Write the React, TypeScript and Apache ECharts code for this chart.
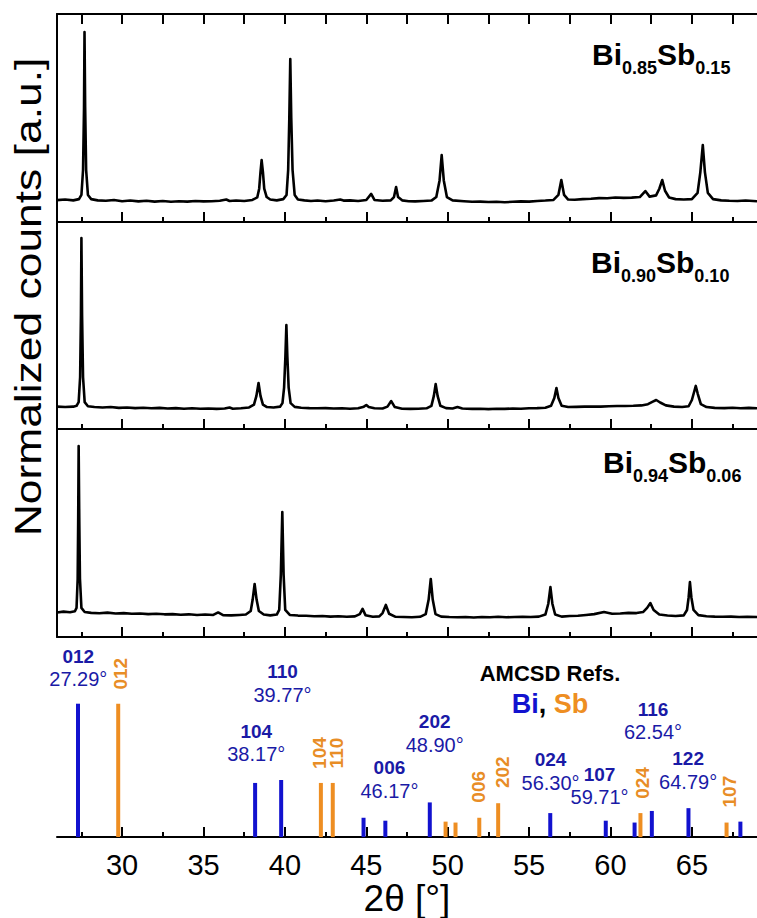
import React, { useEffect, useRef } from 'react';
import * as echarts from 'echarts';

const FONT = '"Liberation Sans", Arial, Helvetica, sans-serif';

// ---------- axis ----------
const X_MIN = 26;
const X_MAX = 69;
const MAJOR_TICKS = [30, 35, 40, 45, 50, 55, 60, 65];
const MINOR_TICKS = [27.5, 32.5, 37.5, 42.5, 47.5, 52.5, 57.5, 62.5, 67.5];
const ALL_TICKS = [27.5, 30, 32.5, 35, 37.5, 40, 42.5, 45, 47.5, 50, 52.5, 55, 57.5, 60, 62.5, 65, 67.5];

// ---------- samples ----------
const SAMPLE_BI = ['0.85', '0.90', '0.94'];
const SAMPLE_SB = ['0.15', '0.10', '0.06'];

const PATTERN_085: number[][] = [
  [26.0, 0.105], [26.5, 0.108], [27.0, 0.104], [27.35, 0.110], [27.5, 0.130], [27.6, 0.25], [27.66, 0.55],
  [27.69, 0.913], [27.73, 0.55], [27.79, 0.25], [27.9, 0.13], [28.1, 0.110], [28.5, 0.104], [29.0, 0.102],
  [29.5, 0.106], [30.0, 0.100], [30.5, 0.103], [31.0, 0.099], [31.5, 0.102], [32.0, 0.098], [32.5, 0.101],
  [33.0, 0.097], [33.5, 0.100], [34.0, 0.098], [34.5, 0.101], [35.0, 0.099], [35.5, 0.100], [36.0, 0.102],
  [36.4, 0.108], [36.6, 0.101], [37.0, 0.103], [37.5, 0.101], [38.0, 0.106], [38.3, 0.118], [38.42, 0.16],
  [38.5, 0.24], [38.57, 0.298], [38.65, 0.24], [38.73, 0.16], [38.88, 0.12], [39.1, 0.108], [39.5, 0.104],
  [39.9, 0.110], [40.1, 0.13], [40.2, 0.25], [40.27, 0.5], [40.33, 0.784], [40.39, 0.5], [40.47, 0.25],
  [40.6, 0.13], [40.8, 0.108], [41.2, 0.104], [41.6, 0.101], [42.0, 0.103], [42.5, 0.100], [43.0, 0.103],
  [43.4, 0.108], [43.6, 0.103], [44.0, 0.104], [44.5, 0.101], [45.0, 0.106], [45.3, 0.135], [45.5, 0.106],
  [46.0, 0.102], [46.5, 0.104], [46.7, 0.12], [46.83, 0.168], [46.95, 0.12], [47.2, 0.104], [47.6, 0.100],
  [48.0, 0.099], [48.5, 0.101], [49.0, 0.103], [49.3, 0.12], [49.5, 0.2], [49.63, 0.322], [49.76, 0.2],
  [49.95, 0.12], [50.3, 0.104], [51.0, 0.100], [51.5, 0.097], [52.0, 0.098], [52.5, 0.096], [53.0, 0.097],
  [53.5, 0.095], [54.0, 0.097], [54.5, 0.099], [55.0, 0.098], [55.5, 0.101], [56.0, 0.103], [56.5, 0.106],
  [56.8, 0.13], [56.98, 0.202], [57.15, 0.13], [57.4, 0.108], [57.8, 0.107], [58.3, 0.110], [58.8, 0.112],
  [59.3, 0.115], [59.8, 0.114], [60.3, 0.118], [60.8, 0.116], [61.3, 0.117], [61.8, 0.120], [62.14, 0.149],
  [62.4, 0.122], [62.8, 0.128], [63.0, 0.16], [63.18, 0.202], [63.35, 0.15], [63.6, 0.118], [64.0, 0.110],
  [64.5, 0.108], [65.0, 0.110], [65.35, 0.14], [65.52, 0.24], [65.67, 0.370], [65.8, 0.24], [65.98, 0.14],
  [66.3, 0.110], [66.8, 0.104], [67.3, 0.102], [67.8, 0.101], [68.3, 0.103], [69.0, 0.100],
];

const PATTERN_090: number[][] = [
  [26.0, 0.108], [26.5, 0.106], [27.0, 0.108], [27.2, 0.112], [27.33, 0.13], [27.42, 0.25], [27.47, 0.55],
  [27.5, 0.923], [27.54, 0.55], [27.6, 0.25], [27.7, 0.13], [27.9, 0.11], [28.3, 0.106], [28.8, 0.104],
  [29.3, 0.106], [29.8, 0.102], [30.3, 0.104], [30.8, 0.101], [31.3, 0.103], [31.8, 0.100], [32.3, 0.102],
  [32.8, 0.099], [33.3, 0.101], [33.8, 0.098], [34.3, 0.100], [34.8, 0.098], [35.3, 0.099], [35.8, 0.097],
  [36.3, 0.099], [36.6, 0.104], [36.8, 0.098], [37.3, 0.100], [37.8, 0.104], [38.1, 0.118], [38.25, 0.16],
  [38.38, 0.222], [38.5, 0.16], [38.65, 0.118], [38.9, 0.106], [39.3, 0.104], [39.7, 0.108], [39.85, 0.125],
  [39.95, 0.2], [40.03, 0.35], [40.09, 0.502], [40.15, 0.35], [40.23, 0.2], [40.35, 0.125], [40.6, 0.107],
  [41.0, 0.103], [41.5, 0.101], [42.0, 0.100], [42.5, 0.101], [43.0, 0.099], [43.5, 0.100], [44.0, 0.098],
  [44.5, 0.100], [44.85, 0.108], [45.0, 0.116], [45.15, 0.106], [45.5, 0.100], [46.0, 0.099], [46.3, 0.108],
  [46.53, 0.135], [46.75, 0.106], [47.2, 0.098], [47.7, 0.097], [48.2, 0.098], [48.7, 0.100], [49.0, 0.112],
  [49.15, 0.16], [49.26, 0.217], [49.38, 0.16], [49.55, 0.112], [49.9, 0.101], [50.3, 0.099], [50.6, 0.106],
  [50.9, 0.099], [51.5, 0.097], [52.0, 0.098], [52.5, 0.096], [53.0, 0.098], [53.5, 0.097], [54.0, 0.099],
  [54.5, 0.098], [55.0, 0.100], [55.5, 0.101], [56.0, 0.103], [56.35, 0.112], [56.55, 0.15], [56.68, 0.198],
  [56.8, 0.15], [57.0, 0.112], [57.4, 0.106], [57.9, 0.107], [58.4, 0.108], [58.9, 0.109], [59.4, 0.108],
  [59.9, 0.110], [60.4, 0.111], [60.9, 0.111], [61.4, 0.112], [61.9, 0.114], [62.3, 0.12], [62.6, 0.132],
  [62.81, 0.140], [63.05, 0.128], [63.4, 0.114], [63.9, 0.108], [64.4, 0.106], [64.8, 0.11], [65.0, 0.14],
  [65.14, 0.18], [65.24, 0.208], [65.36, 0.17], [65.55, 0.12], [65.9, 0.106], [66.4, 0.102], [67.0, 0.101],
  [67.5, 0.103], [68.0, 0.100], [68.5, 0.102], [69.0, 0.100],
];

const PATTERN_094: number[][] = [
  [26.0, 0.118], [26.4, 0.122], [26.8, 0.119], [27.1, 0.124], [27.2, 0.14], [27.27, 0.28], [27.3, 0.55],
  [27.33, 0.918], [27.37, 0.55], [27.41, 0.28], [27.5, 0.14], [27.7, 0.12], [28.1, 0.116], [28.6, 0.114],
  [29.1, 0.117], [29.6, 0.113], [30.1, 0.115], [30.6, 0.112], [31.1, 0.113], [31.6, 0.110], [32.1, 0.112],
  [32.6, 0.109], [33.1, 0.110], [33.6, 0.107], [34.1, 0.109], [34.6, 0.106], [35.1, 0.108], [35.6, 0.106],
  [35.9, 0.118], [36.2, 0.105], [36.7, 0.104], [37.2, 0.106], [37.6, 0.108], [37.9, 0.125], [38.02, 0.18],
  [38.14, 0.255], [38.26, 0.18], [38.4, 0.125], [38.7, 0.108], [39.1, 0.104], [39.5, 0.108], [39.65, 0.13],
  [39.75, 0.3], [39.84, 0.601], [39.92, 0.3], [40.02, 0.13], [40.3, 0.106], [40.8, 0.103], [41.3, 0.102],
  [41.8, 0.100], [42.3, 0.101], [42.8, 0.098], [43.3, 0.100], [43.8, 0.097], [44.3, 0.099], [44.6, 0.11],
  [44.77, 0.135], [44.95, 0.105], [45.4, 0.097], [45.8, 0.099], [46.0, 0.115], [46.2, 0.154], [46.4, 0.112],
  [46.8, 0.097], [47.3, 0.096], [47.8, 0.095], [48.3, 0.097], [48.65, 0.11], [48.83, 0.18], [48.96, 0.279],
  [49.08, 0.18], [49.25, 0.11], [49.6, 0.098], [50.1, 0.096], [50.6, 0.095], [51.1, 0.096], [51.6, 0.094],
  [52.1, 0.096], [52.6, 0.095], [53.1, 0.097], [53.6, 0.095], [54.1, 0.096], [54.6, 0.097], [55.1, 0.096],
  [55.6, 0.098], [56.0, 0.108], [56.18, 0.16], [56.31, 0.240], [56.43, 0.16], [56.6, 0.108], [57.0, 0.098],
  [57.5, 0.101], [58.0, 0.102], [58.5, 0.106], [59.0, 0.110], [59.6, 0.12], [60.1, 0.112], [60.6, 0.113],
  [61.1, 0.116], [61.6, 0.115], [62.0, 0.12], [62.25, 0.14], [62.45, 0.163], [62.65, 0.13], [63.0, 0.108],
  [63.5, 0.103], [64.0, 0.101], [64.5, 0.104], [64.7, 0.13], [64.8, 0.19], [64.88, 0.264], [64.97, 0.19],
  [65.1, 0.13], [65.4, 0.105], [65.9, 0.100], [66.4, 0.098], [66.9, 0.097], [67.4, 0.098], [67.9, 0.096],
  [68.4, 0.097], [69.0, 0.096],
];

// ---------- AMCSD reference sticks ----------
const BI_REF_ANGLE = [27.29, 38.17, 39.77, 44.83, 46.17, 48.9, 56.3, 59.71, 61.48, 62.54, 64.79, 67.98];
const BI_REF_INT = [100, 40.6, 42.8, 14.5, 12.3, 26, 18, 12.3, 10.9, 19.6, 21.7, 11.6];
const SB_REF_ANGLE = [29.76, 42.21, 42.94, 49.87, 50.48, 51.94, 53.1, 61.84, 67.13];
const SB_REF_INT = [100, 40.6, 40.6, 11.6, 10.9, 14.5, 25.4, 18, 10.9];

const BI_LABEL_HKL = ['012', '110', '104', '006', '202', '024', '107', '116', '122'];
const BI_LABEL_ANGLE = ['27.29°', '39.77°', '38.17°', '46.17°', '48.90°', '56.30°', '59.71°', '62.54°', '64.79°'];
const BI_LABEL_X = [27.31, 39.85, 38.24, 46.42, 49.2, 56.32, 59.33, 62.61, 64.77];
const BI_LABEL_LEVEL = [126.8, 115.2, 70.7, 43.5, 77.9, 49.3, 38.4, 87.3, 50];

const SB_LABEL_HKL = ['012', '104', '110', '006', '202', '024', '107'];
const SB_LABEL_X = [29.89, 42.1, 43.14, 51.89, 53.34, 61.97, 67.32];
const SB_LABEL_LEVEL = [122.5, 63, 63, 37.7, 48.6, 40.6, 34.1];

// ---------- layout / style ----------
const LEFT = 57;
const PX_PER_DEG = 16.457;
const PLOT_W = (X_MAX - X_MIN) * PX_PER_DEG;
const PANEL_TOP = [14, 222, 429];
const PANEL_H = [208, 207, 208];
const REF_TOP = 637;
const REF_H = 207;
const REF_MAX = 150;
const SAMPLE_LABEL_POS = [[592, 54], [591, 262], [603, 462]];
const STICK_W = 4;
const BLUE = '#1212cf';
const BLUE_TXT = '#1a1aa6';
const ORANGE = '#ee8e22';
const ORANGE_TXT = '#e88d26';

function buildOption(): any {
  const axisLineStyle = { color: '#000', width: 2 };
  const grids = PANEL_TOP.map((t, i) => ({ left: LEFT, top: t, width: PLOT_W, height: PANEL_H[i] }));
  grids.push({ left: LEFT, top: REF_TOP, width: PLOT_W, height: REF_H });

  const baseX = (g: number, extra: any) => ({
    type: 'value', gridIndex: g, min: X_MIN, max: X_MAX,
    axisLine: { show: false, onZero: false },
    axisTick: { show: false },
    axisLabel: { show: false },
    splitLine: { show: false },
    ...extra,
  });

  const xAxes: any[] = [];
  const bottomIdx: number[] = [];
  for (let g = 0; g < 4; g++) {
    bottomIdx[g] = xAxes.length;
    const isRef = g === 3;
    xAxes.push(baseX(g, {
      position: 'bottom',
      axisLine: { show: true, onZero: false, lineStyle: axisLineStyle },
      axisTick: { show: true, inside: true, length: 10, lineStyle: axisLineStyle, customValues: MAJOR_TICKS },
      axisLabel: isRef
        ? { show: true, customValues: MAJOR_TICKS, fontSize: 29, fontFamily: FONT, color: '#000', margin: 13 }
        : { show: false },
      name: isRef ? '2θ [°]' : '',
      nameLocation: 'middle',
      nameGap: 35,
      nameTextStyle: { fontSize: 37, fontFamily: FONT, color: '#000' },
    }));
    xAxes.push(baseX(g, {
      position: 'bottom',
      axisTick: { show: true, inside: true, length: 5, lineStyle: axisLineStyle, customValues: MINOR_TICKS },
    }));
  }
  xAxes.push(baseX(0, {
    position: 'top',
    axisLine: { show: true, onZero: false, lineStyle: axisLineStyle },
    axisTick: { show: true, inside: true, length: 10, lineStyle: axisLineStyle, customValues: ALL_TICKS },
  }));

  const yAxes: any[] = [0, 1, 2].map((g) => ({
    type: 'value', gridIndex: g, min: 0, max: 1,
    axisLine: { show: true, onZero: false, lineStyle: axisLineStyle },
    axisTick: { show: false }, axisLabel: { show: false }, splitLine: { show: false },
  }));
  yAxes.push({ type: 'value', gridIndex: 3, min: 0, max: REF_MAX, show: false, splitLine: { show: false } });

  const patterns = [PATTERN_085, PATTERN_090, PATTERN_094];
  const series: any[] = patterns.map((data, g) => ({
    type: 'line', xAxisIndex: bottomIdx[g], yAxisIndex: g, data,
    showSymbol: false, symbol: 'none', silent: true, z: 3,
    lineStyle: { color: '#000', width: 2.6, join: 'round' },
  }));

  const stickSeries = (angles: number[], ints: number[], color: string) => ({
    type: 'custom', xAxisIndex: bottomIdx[3], yAxisIndex: 3, silent: true, z: 3,
    data: angles.map((a, i) => [a, ints[i]]),
    encode: { x: 0, y: 1 },
    renderItem: (_params: any, api: any) => {
      const x = api.value(0);
      const h = api.value(1);
      const p0 = api.coord([x, 0]);
      const p1 = api.coord([x, h]);
      return {
        type: 'rect',
        shape: { x: p0[0] - STICK_W / 2, y: p1[1], width: STICK_W, height: p0[1] - p1[1] },
        style: { fill: color },
      };
    },
  });
  series.push(stickSeries(BI_REF_ANGLE, BI_REF_INT, BLUE));
  series.push(stickSeries(SB_REF_ANGLE, SB_REF_INT, ORANGE));

  series.push({
    type: 'scatter', xAxisIndex: bottomIdx[3], yAxisIndex: 3, silent: true, z: 4,
    symbol: 'circle', symbolSize: 1, itemStyle: { color: 'rgba(0,0,0,0)', opacity: 1 },
    data: BI_LABEL_HKL.map((h, i) => ({ value: [BI_LABEL_X[i], BI_LABEL_LEVEL[i]], hkl: h, ang: BI_LABEL_ANGLE[i] })),
    label: {
      show: true, position: 'inside', opacity: 1,
      formatter: (p: any) => `{h|${p.data.hkl}}\n{a|${p.data.ang}}`,
      rich: {
        h: { fontSize: 19, fontWeight: 'bold', fontFamily: FONT, color: BLUE_TXT, lineHeight: 23, align: 'center' },
        a: { fontSize: 20, fontFamily: FONT, color: BLUE_TXT, lineHeight: 23, align: 'center' },
      },
    },
  });
  series.push({
    type: 'scatter', xAxisIndex: bottomIdx[3], yAxisIndex: 3, silent: true, z: 4,
    symbol: 'circle', symbolSize: 1, itemStyle: { color: 'rgba(0,0,0,0)', opacity: 1 },
    data: SB_LABEL_HKL.map((h, i) => ({ value: [SB_LABEL_X[i], SB_LABEL_LEVEL[i]], hkl: h })),
    label: {
      show: true, position: 'inside', rotate: 90, opacity: 1,
      formatter: (p: any) => p.data.hkl,
      fontSize: 19, fontWeight: 'bold', fontFamily: FONT, color: ORANGE_TXT,
    },
  });

  const graphic: any[] = [];
  graphic.push({
    type: 'text', x: 28, y: 297, rotation: Math.PI / 2, scaleX: 1.2, silent: true,
    style: {
      text: 'Normalized counts [a.u.]', fontSize: 37, fontFamily: FONT, fill: '#000',
      textAlign: 'center', textVerticalAlign: 'middle',
    },
  });
  SAMPLE_LABEL_POS.forEach((pos, i) => {
    graphic.push({
      type: 'text', x: pos[0], y: pos[1] - 15, silent: true,
      style: {
        text: `{m|Bi}{s|${SAMPLE_BI[i]}}{m|Sb}{s|${SAMPLE_SB[i]}}`,
        textAlign: 'left', textVerticalAlign: 'top',
        rich: {
          m: { fontSize: 30, fontWeight: 'bold', fontFamily: FONT, fill: '#000', color: '#000', verticalAlign: 'top', lineHeight: 30 },
          s: { fontSize: 18, fontWeight: 'bold', fontFamily: FONT, fill: '#000', color: '#000', verticalAlign: 'top', padding: [19.5, 0, 0, 0] },
        },
      },
    });
  });
  graphic.push({
    type: 'text', x: 550, y: 673, silent: true,
    style: {
      text: 'AMCSD Refs.', fontSize: 22, fontWeight: 'bold', fontFamily: FONT, fill: '#000',
      textAlign: 'center', textVerticalAlign: 'middle',
    },
  });
  graphic.push({
    type: 'text', x: 550, y: 704, silent: true,
    style: {
      text: '{b|Bi}{k|, }{o|Sb}', textAlign: 'center', textVerticalAlign: 'middle',
      rich: {
        b: { fontSize: 27, fontWeight: 'bold', fontFamily: FONT, fill: BLUE, color: BLUE },
        k: { fontSize: 27, fontWeight: 'bold', fontFamily: FONT, fill: '#000', color: '#000' },
        o: { fontSize: 27, fontWeight: 'bold', fontFamily: FONT, fill: ORANGE, color: ORANGE },
      },
    },
  });

  return {
    animation: false,
    backgroundColor: '#fff',
    grid: grids,
    xAxis: xAxes,
    yAxis: yAxes,
    series,
    graphic,
  };
}

export default function App() {
  const ref = useRef<HTMLDivElement>(null);
  useEffect(() => {
    if (!ref.current) return;
    const chart = echarts.init(ref.current, undefined, { renderer: 'svg' });
    chart.setOption(buildOption());
    return () => chart.dispose();
  }, []);
  return (
    <div
      ref={ref}
      style={{ position: 'absolute', left: 0, top: 0, width: 757, height: 918, background: '#fff' }}
    />
  );
}
